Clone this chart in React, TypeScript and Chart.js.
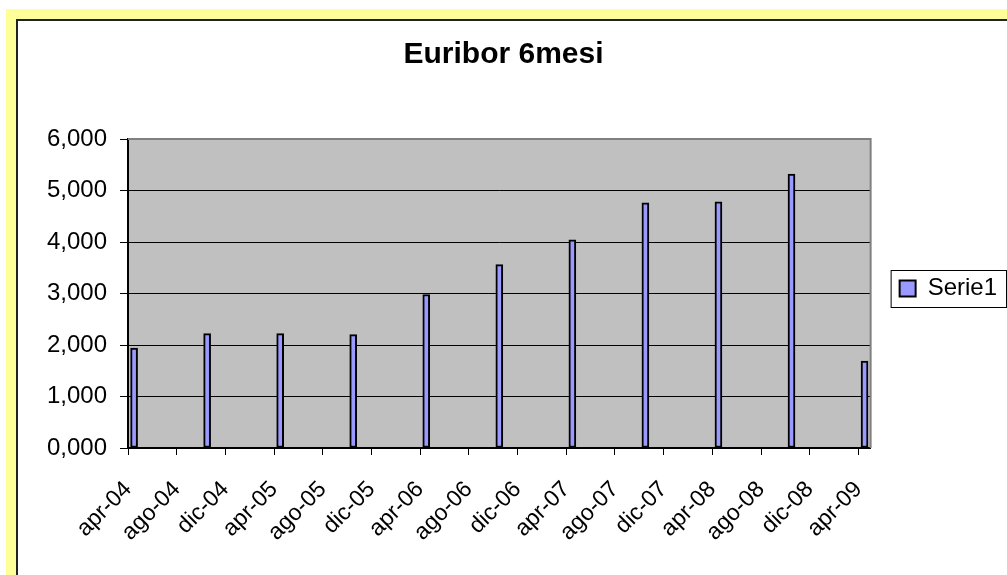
import React, { useEffect, useRef } from 'react';
import { Chart, registerables } from 'chart.js';

Chart.register(...registerables);

const chartTitle = 'Euribor 6mesi';
const seriesName = 'Serie1';
const periods = ['2004-04', '2004-10', '2005-04', '2005-10', '2006-04', '2006-10', '2007-04', '2007-10', '2008-04', '2008-10', '2009-04'];
const values = [1.94, 2.22, 2.22, 2.2, 2.98, 3.56, 4.04, 4.76, 4.78, 5.32, 1.69];
const tickLabels = ['apr-04', 'ago-04', 'dic-04', 'apr-05', 'ago-05', 'dic-05', 'apr-06', 'ago-06', 'dic-06', 'apr-07', 'ago-07', 'dic-07', 'apr-08', 'ago-08', 'dic-08', 'apr-09'];
const yTicks = [0, 1, 2, 3, 4, 5, 6];
const axisStart = '2004-04';
const axisEnd = '2009-05';
const tickStepMonths = 4;

const FONT = '"Liberation Sans", Arial, sans-serif';

function monthIndex(p: string): number {
  const [y, m] = p.split('-').map(Number);
  const [y0, m0] = axisStart.split('-').map(Number);
  return (y - y0) * 12 + (m - m0);
}

const framePlugin = {
  id: 'excelFrame',
  afterLayout(chart: any) {
    const lg = chart.legend;
    if (lg) {
      lg.top -= 5;
      lg.bottom -= 5;
    }
  },
  beforeDraw(chart: any) {
    const { ctx, chartArea: a } = chart;
    ctx.save();
    ctx.fillStyle = '#C0C0C0';
    ctx.fillRect(a.left, a.top, a.right - a.left, a.bottom - a.top);
    ctx.restore();
  },
  afterDatasetsDraw(chart: any) {
    const { ctx, chartArea: a } = chart;
    ctx.save();
    ctx.strokeStyle = '#808080';
    ctx.lineWidth = 2;
    ctx.beginPath();
    ctx.moveTo(a.left, a.top);
    ctx.lineTo(a.right, a.top);
    ctx.lineTo(a.right, a.bottom);
    ctx.stroke();
    ctx.restore();
  },
  afterDraw(chart: any) {
    const lg = chart.legend;
    if (!lg || !lg.legendHitBoxes || !lg.legendHitBoxes.length) return;
    const hb = lg.legendHitBoxes[0];
    const { ctx } = chart;
    const cy = hb.top + hb.height / 2;
    const left = hb.left - 8.5;
    const right = Math.min(hb.left + hb.width + 12, chart.width - 0.5);
    ctx.save();
    ctx.strokeStyle = '#000';
    ctx.lineWidth = 1;
    ctx.strokeRect(left, Math.round(cy - 19) + 0.5, right - left, 37);
    ctx.restore();
  },
};

export default function App() {
  const canvasRef = useRef<HTMLCanvasElement | null>(null);

  useEffect(() => {
    if (!canvasRef.current) return;
    const points = periods.map((p, i) => ({ x: monthIndex(p) + 0.5, y: values[i] }));
    const tickValues = tickLabels.map((_, i) => i * tickStepMonths);

    const chart = new Chart(canvasRef.current, {
      type: 'bar',
      data: {
        datasets: [
          {
            label: seriesName,
            data: points as any,
            backgroundColor: '#9999FF',
            borderColor: '#000000',
            borderWidth: 2,
            borderSkipped: false,
            barThickness: 7,
          },
        ],
      },
      options: {
        animation: false,
        responsive: false,
        devicePixelRatio: 1,
        events: [],
        layout: { padding: { top: 20, left: 0, right: 0, bottom: 0 } },
        plugins: {
          title: {
            display: true,
            text: chartTitle,
            color: '#000',
            font: { family: FONT, size: 30, weight: 'bold' },
            padding: { top: 17, bottom: 66 },
          },
          legend: {
            display: true,
            position: 'right',
            fullSize: false,
            maxWidth: 137,
            labels: {
              color: '#000',
              font: { family: FONT, size: 24 },
              boxWidth: 16,
              boxHeight: 16,
              padding: 29,
            },
          },
          tooltip: { enabled: false },
        },
        scales: {
          x: {
            type: 'linear',
            min: monthIndex(axisStart),
            max: monthIndex(axisEnd),
            offset: false,
            afterBuildTicks: (axis: any) => {
              axis.ticks = tickValues.map((v) => ({ value: v }));
            },
            afterFit: (axis: any) => {
              axis.height = 127;
            },
            grid: {
              offset: false,
              drawOnChartArea: false,
              drawTicks: true,
              tickLength: 7,
              color: '#000',
              lineWidth: 1,
            },
            border: { display: true, color: '#000', width: 2 },
            ticks: {
              autoSkip: false,
              maxRotation: 45,
              minRotation: 45,
              padding: 21,
              color: '#000',
              font: { family: FONT, size: 23 },
              callback: (_v: any, i: number) => tickLabels[i],
            },
          },
          y: {
            type: 'linear',
            min: yTicks[0],
            max: yTicks[yTicks.length - 1],
            afterBuildTicks: (axis: any) => {
              axis.ticks = yTicks.map((v) => ({ value: v }));
            },
            afterFit: (axis: any) => {
              axis.width = 128;
            },
            grid: {
              drawOnChartArea: true,
              drawTicks: true,
              tickLength: 8,
              color: '#000',
              lineWidth: 1,
            },
            border: { display: true, color: '#000', width: 2 },
            ticks: {
              padding: 13,
              color: '#000',
              font: { family: FONT, size: 24 },
              callback: (v: any) => Number(v).toFixed(3).replace('.', ','),
            },
          },
        },
      },
      plugins: [framePlugin],
    } as any);

    return () => chart.destroy();
  }, []);

  return (
    <div style={{ position: 'absolute', left: 0, top: 0, width: 1007, height: 575, overflow: 'hidden', background: '#fff' }}>
      <div style={{ position: 'absolute', left: 6, top: 9, width: 1100, height: 700, background: '#FFFF99' }} />
      <div
        style={{
          position: 'absolute',
          left: 16,
          top: 19,
          width: 1100,
          height: 700,
          background: '#fff',
          borderLeft: '2px solid #222',
          borderTop: '2px solid #222',
        }}
      />
      <canvas ref={canvasRef} width={1007} height={575} style={{ position: 'absolute', left: 0, top: 0 }} />
    </div>
  );
}
